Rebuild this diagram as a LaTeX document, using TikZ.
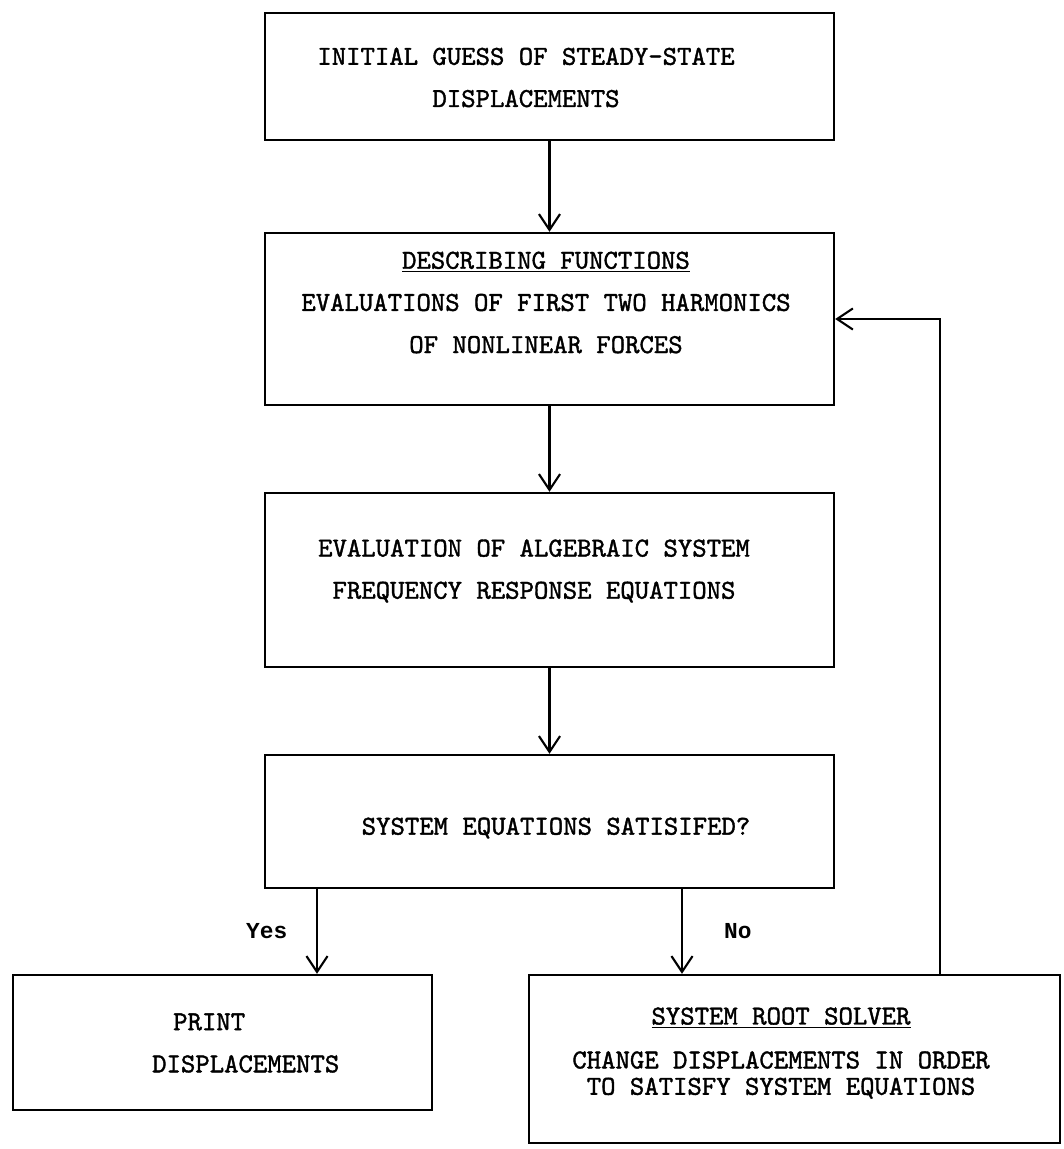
\documentclass[tikz,border=0pt]{standalone}
\usepackage{fontspec}
\usepackage{tikz}
\usetikzlibrary{arrows.meta}
\newfontfamily\typefont{lmmono10-regular.otf}[FakeBold=1.4]
\newfontfamily\answerfont{Liberation Mono}

\begin{document}
\begin{tikzpicture}[x=0.02cm, y=-0.02cm,
    >={Straight Barb[length=9pt,width=12pt]},
    block/.style={draw, line width=1.4pt, minimum width=11.38cm},
    words/.style={align=center, font=\typefont\fontsize{15.6}{24}\selectfont},
    answer/.style={font=\answerfont\bfseries\fontsize{13}{15}\selectfont},
    flow/.style={->, line width=1.2pt}]
    \useasboundingbox (0, 0) rectangle (1063, 1149);

    \node [block, minimum height=2.54cm] (guess) at (549.5, 76.5) {};
    \node [block, minimum height=3.44cm] (descr) at (549.5, 319) {};
    \node [block, minimum height=3.48cm] (algeb) at (549.5, 580) {};
    \node [block, minimum height=2.66cm] (check) at (549.5, 821.5) {};
    \node [block, minimum width=8.38cm, minimum height=2.7cm] (print) at (222.5, 1042.5) {};
    \node [block, minimum width=10.62cm, minimum height=3.36cm] (solver) at (794.5, 1059) {};

    \node [words] (guesstext) at (526, 77.5) {INITIAL GUESS OF STEADY-STATE\\DISPLACEMENTS};
    \node [words] (descrtext) at (546, 302.5) {\underline{DESCRIBING FUNCTIONS}\\EVALUATIONS OF FIRST TWO HARMONICS\\OF NONLINEAR FORCES};
    \node [words] (algebtext) at (534, 571) {EVALUATION OF ALGEBRAIC SYSTEM\\FREQUENCY RESPONSE EQUATIONS};
    \node [words] (checktext) at (556, 828) {SYSTEM EQUATIONS SATISIFED?};
    \node [words, align=left, anchor=west] (printtext) at (146, 1043) {\hspace*{0.42cm}PRINT\\DISPLACEMENTS};
    \node [words] (solvertext) at (781, 1053) {\underline{SYSTEM ROOT SOLVER}\\[1pt]CHANGE DISPLACEMENTS IN ORDER\\[-9pt]TO SATISFY SYSTEM EQUATIONS};

    \coordinate (yesx) at (317, 0);
    \coordinate (nox) at (682, 0);
    \coordinate (loopx) at (940, 0);

    \draw [flow] (guess) -- (descr);
    \draw [flow] (descr) -- (algeb);
    \draw [flow] (algeb) -- (check);
    \draw [flow] (check.south -| yesx) -- (print.north -| yesx) node [answer, midway, left=13pt] (yes) {Yes};
    \draw [flow] (check.south -| nox) -- (solver.north -| nox) node [answer, midway, right=20pt] (no) {No};
    \draw [flow] (solver.north -| loopx) |- (descr.east);
\end{tikzpicture}
\end{document}
